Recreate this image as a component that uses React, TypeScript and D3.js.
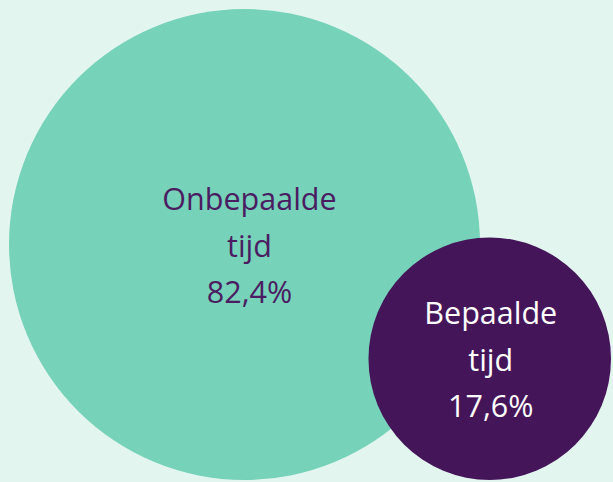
import React from "react";
import * as d3 from "d3";

const categories = ["Onbepaalde tijd", "Bepaalde tijd"];
const values = [82.4, 17.6];
const labels = ["82,4%", "17,6%"];

const W = 613;
const H = 482;
const COLORS = ["#76d2b8", "#45155a"];
const TEXT_COLORS = ["#4b1c62", "#ffffff"];

export default function App() {
  const r = d3.scalePow().exponent(0.43).domain([0, d3.max(values) as number]).range([0, 235.5]);
  const r0 = r(values[0]);
  const r1 = r(values[1]);
  const centers = [
    { x: 9 + r0, y: 9 + r0 },
    { x: W - 2 - r1, y: H - 2 - r1 },
  ];
  const labelDx = [5, 1];
  const lineH = 46.5;
  return (
    <div style={{ position: "fixed", left: 0, top: 0, width: W, height: H }}>
      <svg width={W} height={H} style={{ display: "block" }}>
        <rect width={W} height={H} fill="#e3f5ef" />
        {values.map((v, i) => (
          <circle key={i} cx={centers[i].x} cy={centers[i].y} r={r(v)} fill={COLORS[i]} />
        ))}
        {values.map((v, i) => {
          const words = categories[i].split(" ");
          const lines = [...words, labels[i]];
          return (
            <text
              key={"t" + i}
              x={centers[i].x + labelDx[i]}
              y={centers[i].y + 12}
              textAnchor="middle"
              fill={TEXT_COLORS[i]}
              style={{ fontFamily: "'Open Sans', sans-serif", fontSize: 30.5 }}
            >
              {lines.map((l, j) => (
                <tspan key={j} x={centers[i].x + labelDx[i]} dy={j === 0 ? -lineH : lineH}>
                  {l}
                </tspan>
              ))}
            </text>
          );
        })}
      </svg>
    </div>
  );
}
